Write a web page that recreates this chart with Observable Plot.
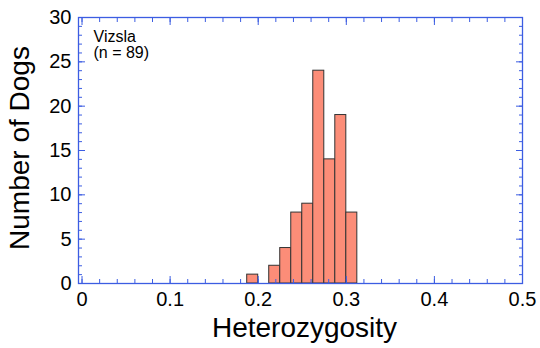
<!DOCTYPE html>
<html>
<head>
<meta charset="utf-8">
<script src="https://cdn.jsdelivr.net/npm/d3@7"></script>
<script src="https://cdn.jsdelivr.net/npm/@observablehq/plot@0.6"></script>
<style>
  html, body { margin: 0; padding: 0; background: #fff; }
</style>
</head>
<body>
<div id="chart"></div>
<script>
// Data
const binStarts = [0.1875, 0.2, 0.2125, 0.225, 0.2375, 0.25, 0.2625, 0.275, 0.2875, 0.3];
const binWidth = 0.0125;
const counts = [1, 0, 2, 4, 8, 9, 24, 14, 19, 8];
const xMajorTicks = [0, 0.1, 0.2, 0.3, 0.4, 0.5];
const xTickLabels = ["0", "0.1", "0.2", "0.3", "0.4", "0.5"];
const xMinorTicks = [0, 0.02, 0.04, 0.06, 0.08, 0.1, 0.12, 0.14, 0.16, 0.18, 0.2, 0.22, 0.24, 0.26, 0.28, 0.3, 0.32, 0.34, 0.36, 0.38, 0.4, 0.42, 0.44, 0.46, 0.48, 0.5];
const yMajorTicks = [0, 5, 10, 15, 20, 25, 30];
const yMinorTicks = d3.range(0, 31, 1);
const annotationLines = ["Vizsla", "(n = 89)"];
const xTitle = "Heterozygosity";
const yTitle = "Number of Dogs";

const bins = binStarts.map((s, i) => ({x1: s, x2: s + binWidth, count: counts[i]}));

const blue = "#3c5de2";
const font = "'Liberation Sans', Arial, Helvetica, sans-serif";

const plot = Plot.plot({
  width: 540,
  height: 348,
  marginLeft: 78,
  marginRight: 18,
  marginTop: 17,
  marginBottom: 65,
  style: {fontFamily: font, background: "#fff", color: "#000"},
  x: {domain: [-0.004, 0.5]},
  y: {domain: [0, 30]},
  marks: [
    Plot.rectY(bins, {x1: "x1", x2: "x2", y: "count", fill: "#fc8d78", stroke: "#333", strokeWidth: 1}),
    // inward ticks on all four sides
    Plot.axisX(xMinorTicks, {anchor: "bottom", tickSize: -4, fill: "none", stroke: blue, label: null}),
    Plot.axisX(xMajorTicks, {anchor: "bottom", tickSize: -7, fill: "none", stroke: blue, label: null}),
    Plot.axisX(xMinorTicks, {anchor: "top", tickSize: -4, fill: "none", stroke: blue, label: null}),
    Plot.axisX(xMajorTicks, {anchor: "top", tickSize: -7, fill: "none", stroke: blue, label: null}),
    Plot.axisY(yMinorTicks, {anchor: "left", tickSize: -4, fill: "none", stroke: blue, label: null}),
    Plot.axisY(yMajorTicks, {anchor: "left", tickSize: -7, fill: "none", stroke: blue, label: null}),
    Plot.axisY(yMinorTicks, {anchor: "right", tickSize: -4, fill: "none", stroke: blue, label: null}),
    Plot.axisY(yMajorTicks, {anchor: "right", tickSize: -7, fill: "none", stroke: blue, label: null}),
    // tick labels
    Plot.axisX(xMajorTicks, {anchor: "bottom", tickSize: 0, tickPadding: 8, fontSize: 20, fill: "#000",
      tickFormat: (d, i) => xTickLabels[i], label: null}),
    Plot.axisY(yMajorTicks, {anchor: "left", tickSize: 0, tickPadding: 7, fontSize: 20, fill: "#000", label: null}),
    Plot.frame({stroke: blue, strokeWidth: 1.3}),
    // annotation
    Plot.text([annotationLines.join("\n")], {frameAnchor: "top-left", dx: 15, dy: 13, textAnchor: "start",
      lineAnchor: "top", lineHeight: 1.0, fontSize: 16, fill: "#000", text: d => d}),
    // axis titles
    Plot.text([xTitle], {frameAnchor: "bottom", dx: 4, dy: 45, textAnchor: "middle", lineAnchor: "middle",
      fontSize: 28, fill: "#000", text: d => d}),
    Plot.text([yTitle], {frameAnchor: "left", dx: -58, dy: -2.5, rotate: -90, textAnchor: "middle", lineAnchor: "middle",
      fontSize: 28, fill: "#000", text: d => d})
  ]
});
document.getElementById("chart").appendChild(plot);
</script>
</body>
</html>
